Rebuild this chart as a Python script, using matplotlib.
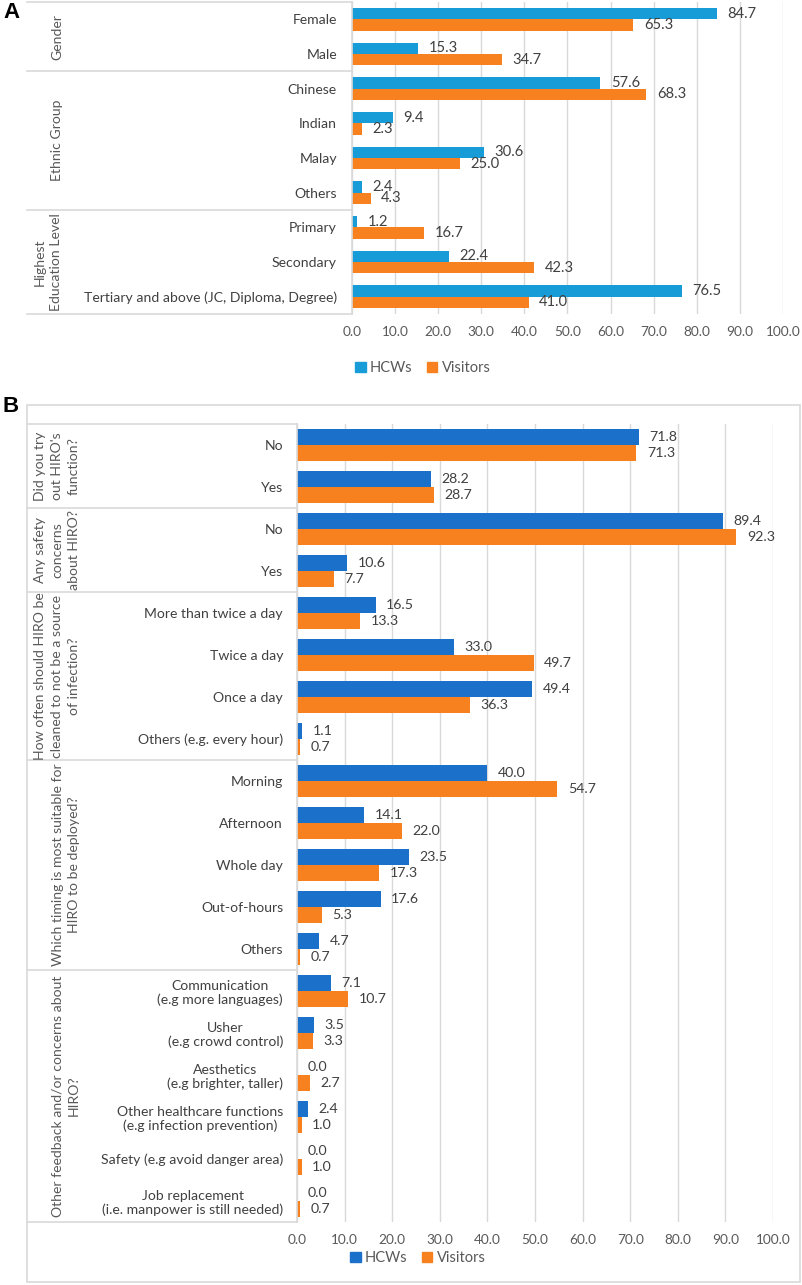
import numpy as np
import matplotlib
matplotlib.use("Agg")
import matplotlib.pyplot as plt
from matplotlib.patches import Patch, Rectangle
from matplotlib.lines import Line2D
from matplotlib.transforms import blended_transform_factory

plt.rcParams['font.family'] = ['Lato', 'DejaVu Sans']

# Panel A data
cats_a = ["Female", "Male", "Chinese", "Indian", "Malay", "Others",
          "Primary", "Secondary", "Tertiary and above (JC, Diploma, Degree)"]
hcw_a = [84.7, 15.3, 57.6, 9.4, 30.6, 2.4, 1.2, 22.4, 76.5]
vis_a = [65.3, 34.7, 68.3, 2.3, 25.0, 4.3, 16.7, 42.3, 41.0]
groups_a = [("Gender", 2), ("Ethnic Group", 4), ("Highest\nEducation Level", 3)]

# Panel B data
cats_b = ["No", "Yes", "No", "Yes",
          "More than twice a day", "Twice a day", "Once a day", "Others (e.g. every hour)",
          "Morning", "Afternoon", "Whole day", "Out-of-hours", "Others",
          "Communication\n(e.g more languages)", "Usher\n(e.g crowd control)",
          "Aesthetics\n(e.g brighter, taller)",
          "Other healthcare functions\n(e.g infection prevention)",
          "Safety (e.g avoid danger area)",
          "Job replacement\n(i.e. manpower is still needed)"]
hcw_b = [71.8, 28.2, 89.4, 10.6, 16.5, 33.0, 49.4, 1.1, 40.0, 14.1, 23.5, 17.6, 4.7,
         7.1, 3.5, 0.0, 2.4, 0.0, 0.0]
vis_b = [71.3, 28.7, 92.3, 7.7, 13.3, 49.7, 36.3, 0.7, 54.7, 22.0, 17.3, 5.3, 0.7,
         10.7, 3.3, 2.7, 1.0, 1.0, 0.7]
groups_b = [("Did you try\nout HIRO's\nfunction?", 2),
            ("Any safety\nconcerns\nabout HIRO?", 2),
            ("How often should HIRO be\ncleaned to not be a source\nof infection?", 4),
            ("Which timing is most suitable for\nHIRO to be deployed?", 5),
            ("Other feedback and/or concerns about\nHIRO?", 6)]

orange = '#f7801f'
blue_a = '#179cd7'
blue_b = '#1b70c9'
grid_c = '#d9d9d9'
text_c = '#404040'

W, H = 803, 1285
fig = plt.figure(figsize=(W / 100, H / 100), dpi=100)


def fbox(l, t, r, b):
    return [l / W, 1 - b / H, (r - l) / W, (b - t) / H]


def panel(ax, cats, hcw, vis, blue, bar_h, groups, group_x, ypad, fs, vfs):
    y = np.arange(len(cats))
    ax.barh(y - bar_h / 2, hcw, height=bar_h, color=blue, zorder=3)
    ax.barh(y + bar_h / 2, vis, height=bar_h, color=orange, zorder=3)
    for i in range(len(cats)):
        ax.annotate(f"{hcw[i]:.1f}", xy=(hcw[i], y[i] - bar_h / 2), xytext=(7.5, 0),
                    textcoords='offset points', va='center', ha='left',
                    fontsize=vfs, color=text_c)
        ax.annotate(f"{vis[i]:.1f}", xy=(vis[i], y[i] + bar_h / 2), xytext=(7.5, 0),
                    textcoords='offset points', va='center', ha='left',
                    fontsize=vfs, color=text_c)
    ax.set_xlim(0, 100)
    ax.set_ylim(len(cats) - 0.5, -0.5)
    ax.set_xticks(np.arange(0, 101, 10))
    ax.set_xticklabels([f"{t:.1f}" for t in np.arange(0, 101, 10)])
    ax.set_yticks(y)
    ax.set_yticklabels(cats)
    for lab in ax.get_yticklabels():
        lab.set_multialignment('center')
    ax.tick_params(axis='y', length=0, pad=ypad, labelsize=fs + 0.3, labelcolor=text_c)
    ax.tick_params(axis='x', length=0, pad=9, labelsize=fs, labelcolor='#595959')
    ax.grid(axis='x', color=grid_c, lw=1, zorder=0)
    for s in ax.spines.values():
        s.set_visible(False)

    # label box with group separators
    tr = blended_transform_factory(fig.transFigure, ax.transData)
    x0 = 27 / W
    x1 = ax.get_position().x0
    bounds = [-0.5]
    for _, n in groups:
        bounds.append(bounds[-1] + n)
    for b in bounds:
        fig.add_artist(Line2D([x0, x1], [b, b], transform=tr, color=grid_c, lw=1.2))
    fig.add_artist(Line2D([x1, x1], [bounds[0], bounds[-1]], transform=tr,
                          color=grid_c, lw=1.2))
    for (lab, n), lo, gx in zip(groups, bounds[:-1], group_x):
        fig.text(gx / W, lo + n / 2, lab, transform=tr, rotation=90,
                 ha='center', va='center', multialignment='center',
                 fontsize=fs + 0.3, color='#595959', linespacing=1.45)


axA = fig.add_axes(fbox(352, 2, 783, 314))
panel(axA, cats_a, hcw_a, vis_a, blue_a, 0.33, groups_a, [57, 57, 48], 10.8, 9.8, 10.6)

axB = fig.add_axes(fbox(297, 424, 773, 1222))
panel(axB, cats_b, hcw_b, vis_b, blue_b, 0.37, groups_b, [57, 57, 57, 66, 66], 10, 9.8, 10.2)

# outer frame of panel B
fig.add_artist(Rectangle((27 / W, 1 - 1282 / H), (800 - 27) / W, (1282 - 405) / H,
                         transform=fig.transFigure, fill=False, ec=grid_c, lw=1.2))

# panel letters
fig.text(3 / W, 1 - 12 / H, "A", fontsize=16, fontweight='bold',
         family='Liberation Sans', va='center', ha='left')
fig.text(3 / W, 1 - 406 / H, "B", fontsize=16, fontweight='bold',
         family='Liberation Sans', va='center', ha='left')

# legends
for blue, (lx, ly) in [(blue_a, (423, 368)), (blue_b, (418, 1258))]:
    handles = [Patch(color=blue, label='HCWs'), Patch(color=orange, label='Visitors')]
    leg = fig.legend(handles=handles, loc='center', bbox_to_anchor=(lx / W, 1 - ly / H),
                     ncol=2, frameon=False, handlelength=0.7, handleheight=0.7,
                     handletextpad=0.3, columnspacing=1.0, fontsize=10.5)
    for t in leg.get_texts():
        t.set_color('#595959')

fig.savefig("out.png", dpi=100)
